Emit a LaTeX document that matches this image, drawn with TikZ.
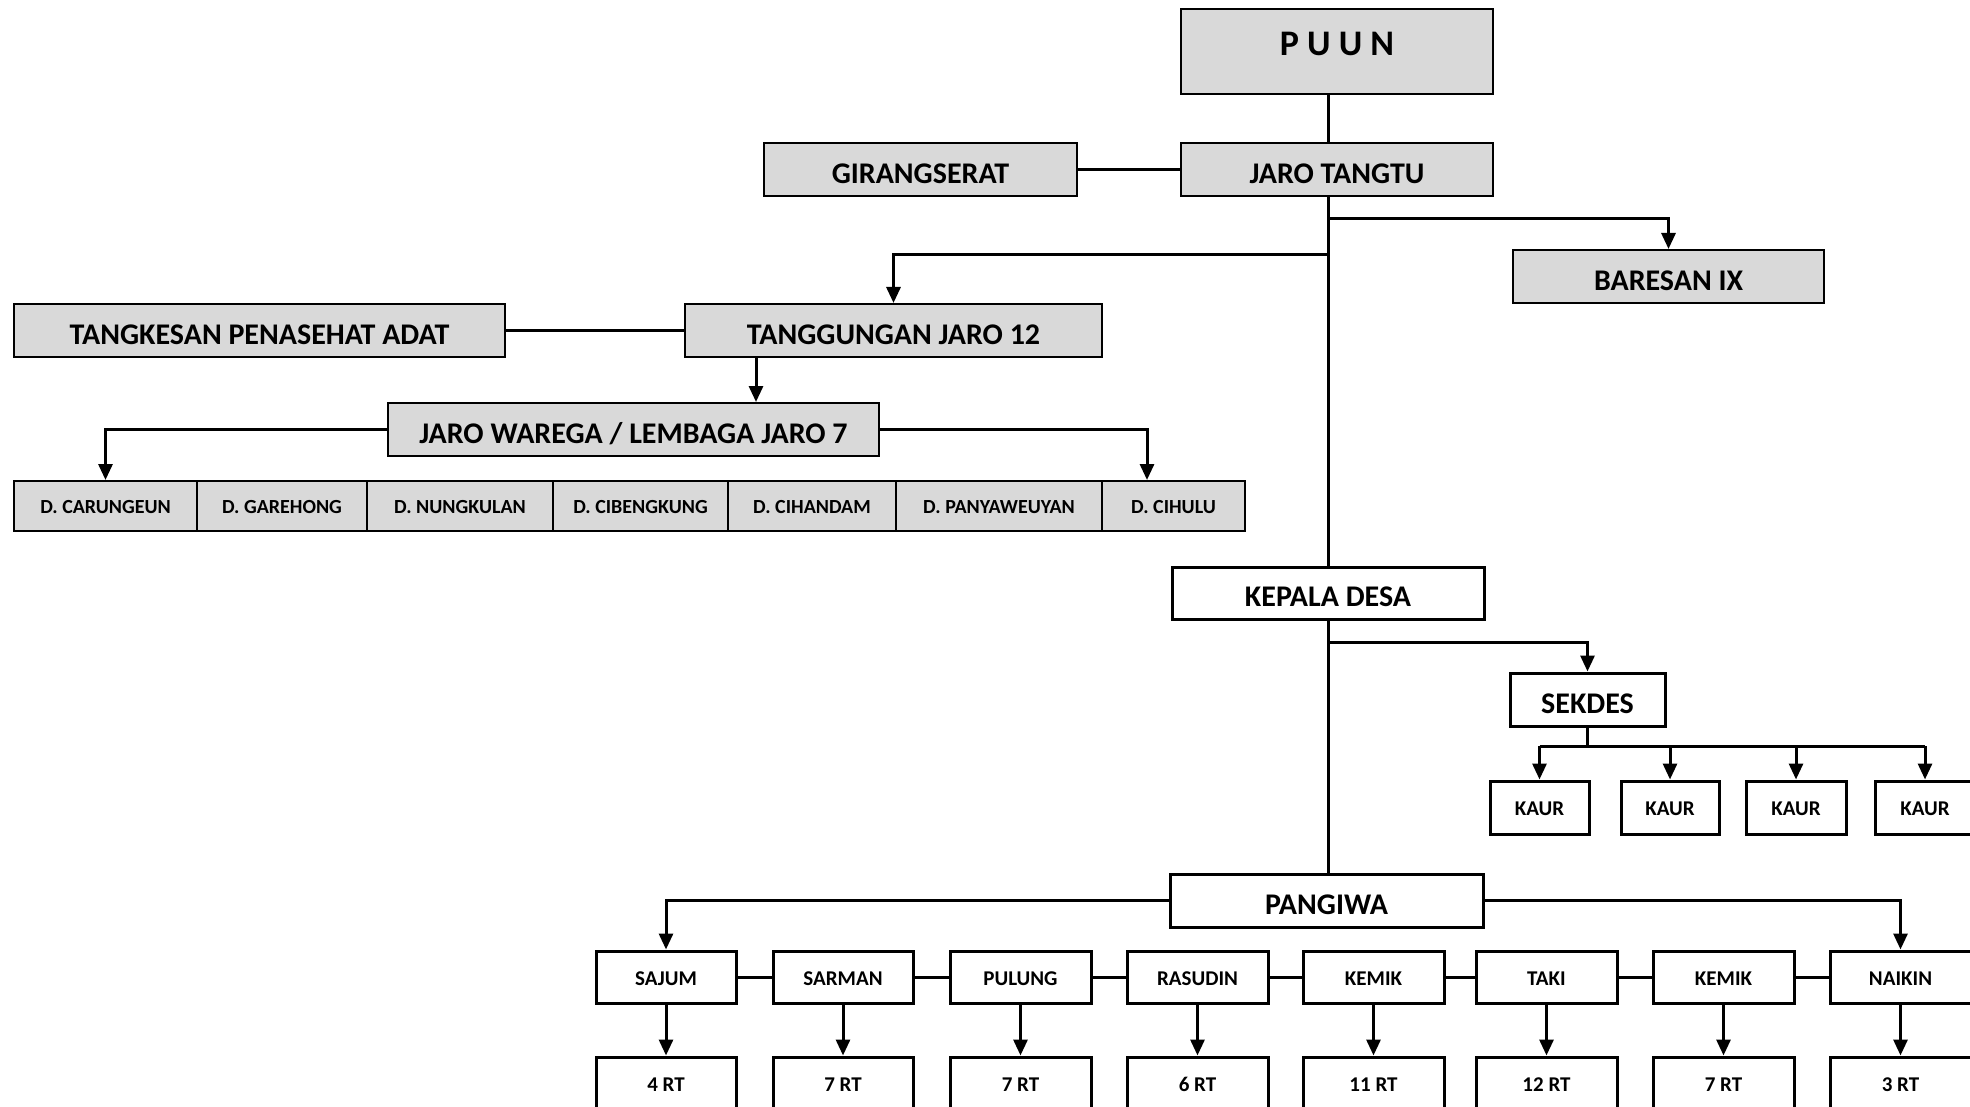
\documentclass[tikz,border=0pt]{standalone}
\usepackage{fontspec}
\setmainfont{Carlito}
\usetikzlibrary{arrows.meta}
\definecolor{boxgray}{HTML}{D9D9D9}
\newcommand\mkbox[7]{\node[#6, minimum width={(#4-#2)*0.5pt}, minimum height={(#5-#3)*0.5pt}] (#1) at ({(#2+#4)/2},{(#3+#5)/2}) {#7};}
\begin{document}
\begin{tikzpicture}[x=0.5pt,y=-0.5pt,
  graybox/.style={draw=black, fill=boxgray, line width=1pt, inner sep=0pt, font=\bfseries\fontsize{15}{18}\selectfont, text height=13.6pt, text depth=0pt},
  whitebox/.style={draw=black, fill=white, line width=1.5pt, inner sep=0pt, font=\bfseries\fontsize{15}{18}\selectfont, text height=13.8pt, text depth=0pt},
  dbox/.style={graybox, font=\bfseries\fontsize{10}{12}\selectfont, text height=7.8pt},
  smallbox/.style={whitebox, font=\bfseries\fontsize{10.5}{12}\selectfont, text height=8pt},
  conn/.style={line width=1.5pt},
  arr/.style={conn, -{Triangle[length=8pt,width=7pt]}}]
\fill[white] (0,0) rectangle (1970,1107);
\useasboundingbox (0,0) rectangle (1970,1107);
\clip (0,0) rectangle (1970,1107);

% top
\mkbox{puun}{1181}{9}{1493}{94}{graybox, label={[font=\bfseries\fontsize{18}{20}\selectfont, yshift=4pt]center:P U U N}}{}
\mkbox{jaro}{1181}{143}{1493}{196}{graybox}{JARO TANGTU}
\mkbox{giran}{764}{143}{1077}{196}{graybox}{GIRANGSERAT}
\mkbox{baresan}{1513}{250}{1824}{303}{graybox}{BARESAN IX}
\mkbox{tang}{685}{304}{1102}{357}{graybox}{TANGGUNGAN JARO 12}
\mkbox{tangk}{14}{304}{505}{357}{graybox}{TANGKESAN PENASEHAT ADAT}
\mkbox{jw}{388}{403}{879}{456}{graybox}{JARO WAREGA / LEMBAGA JARO 7}

\mkbox{d1}{14}{481}{197}{531}{dbox}{D. CARUNGEUN}
\mkbox{d2}{197}{481}{367}{531}{dbox}{D. GAREHONG}
\mkbox{d3}{367}{481}{553}{531}{dbox}{D. NUNGKULAN}
\mkbox{d4}{553}{481}{728}{531}{dbox}{D. CIBENGKUNG}
\mkbox{d5}{728}{481}{896}{531}{dbox}{D. CIHANDAM}
\mkbox{d6}{896}{481}{1102}{531}{dbox}{D. PANYAWEUYAN}
\mkbox{d7}{1102}{481}{1245}{531}{dbox}{D. CIHULU}

% village government
\mkbox{kepala}{1172}{567}{1484}{619}{whitebox}{KEPALA DESA}
\mkbox{sekdes}{1510}{673}{1665}{726}{whitebox}{SEKDES}
\mkbox{k1}{1490}{781}{1589}{834}{smallbox}{KAUR}
\mkbox{k2}{1621}{781}{1719}{834}{smallbox}{KAUR}
\mkbox{k3}{1746}{781}{1846}{834}{smallbox}{KAUR}
\mkbox{k4}{1875}{781}{1975}{834}{smallbox}{KAUR}
\mkbox{pangiwa}{1170}{874}{1483}{927}{whitebox}{PANGIWA}

\mkbox{r1}{596}{951}{736}{1003}{smallbox}{SAJUM}
\mkbox{r2}{773}{951}{913}{1003}{smallbox}{SARMAN}
\mkbox{r3}{950}{951}{1091}{1003}{smallbox}{PULUNG}
\mkbox{r4}{1127}{951}{1268}{1003}{smallbox}{RASUDIN}
\mkbox{r5}{1303}{951}{1444}{1003}{smallbox}{KEMIK}
\mkbox{r6}{1476}{951}{1617}{1003}{smallbox}{TAKI}
\mkbox{r7}{1653}{951}{1794}{1003}{smallbox}{KEMIK}
\mkbox{r8}{1830}{951}{1971}{1003}{smallbox}{NAIKIN}

\mkbox{t1}{596}{1057}{736}{1110}{smallbox}{4 RT}
\mkbox{t2}{773}{1057}{913}{1110}{smallbox}{7 RT}
\mkbox{t3}{950}{1057}{1091}{1110}{smallbox}{7 RT}
\mkbox{t4}{1127}{1057}{1268}{1110}{smallbox}{6 RT}
\mkbox{t5}{1303}{1057}{1444}{1110}{smallbox}{11 RT}
\mkbox{t6}{1476}{1057}{1617}{1110}{smallbox}{12 RT}
\mkbox{t7}{1653}{1057}{1794}{1110}{smallbox}{7 RT}
\mkbox{t8}{1830}{1057}{1971}{1110}{smallbox}{3 RT}

% helper coordinates
\coordinate (bj) at (1328,219);
\coordinate (bt) at (1328,255);
\coordinate (bk) at (1328,642);
\coordinate (xt) at (756,0);
\coordinate (xc) at (1147,0);
\coordinate (kbar) at (0,746);

% connectors
\draw[conn] (puun.south -| kepala.north) -- (jaro.north -| kepala.north);
\draw[conn] (giran.east) -- (jaro.west);
\draw[conn] (jaro.south -| kepala.north) -- (kepala.north);
\draw[arr] (bj) -| (baresan.north);
\draw[arr] (bt) -| (tang.north);
\draw[conn] (tangk.east) -- (tang.west);
\draw[arr] (tang.south -| xt) -- (jw.north -| xt);
\draw[arr] (jw.west) -| (d1.north);
\draw[arr] (jw.east) -| (xc |- d7.north);

\draw[arr] (bk) -| (sekdes.north);
\draw[conn] (sekdes.south) -- (sekdes.south |- kbar);
\draw[conn] (k1.north |- kbar) -- (k4.north |- kbar);
\foreach \k in {k1,k2,k3,k4}{\draw[arr] (\k.north |- kbar) -- (\k.north);}
\draw[conn] (kepala.south) -- (kepala.south |- pangiwa.north);

\draw[arr] (pangiwa.west) -| (r1.north);
\draw[arr] (pangiwa.east) -| (r8.north);
\foreach \a/\b in {r1/r2,r2/r3,r3/r4,r4/r5,r5/r6,r6/r7,r7/r8}{\draw[conn] (\a.east) -- (\b.west);}
\foreach \i in {1,...,8}{\draw[arr] (r\i.south) -- (t\i.north);}
\end{tikzpicture}
\end{document}
